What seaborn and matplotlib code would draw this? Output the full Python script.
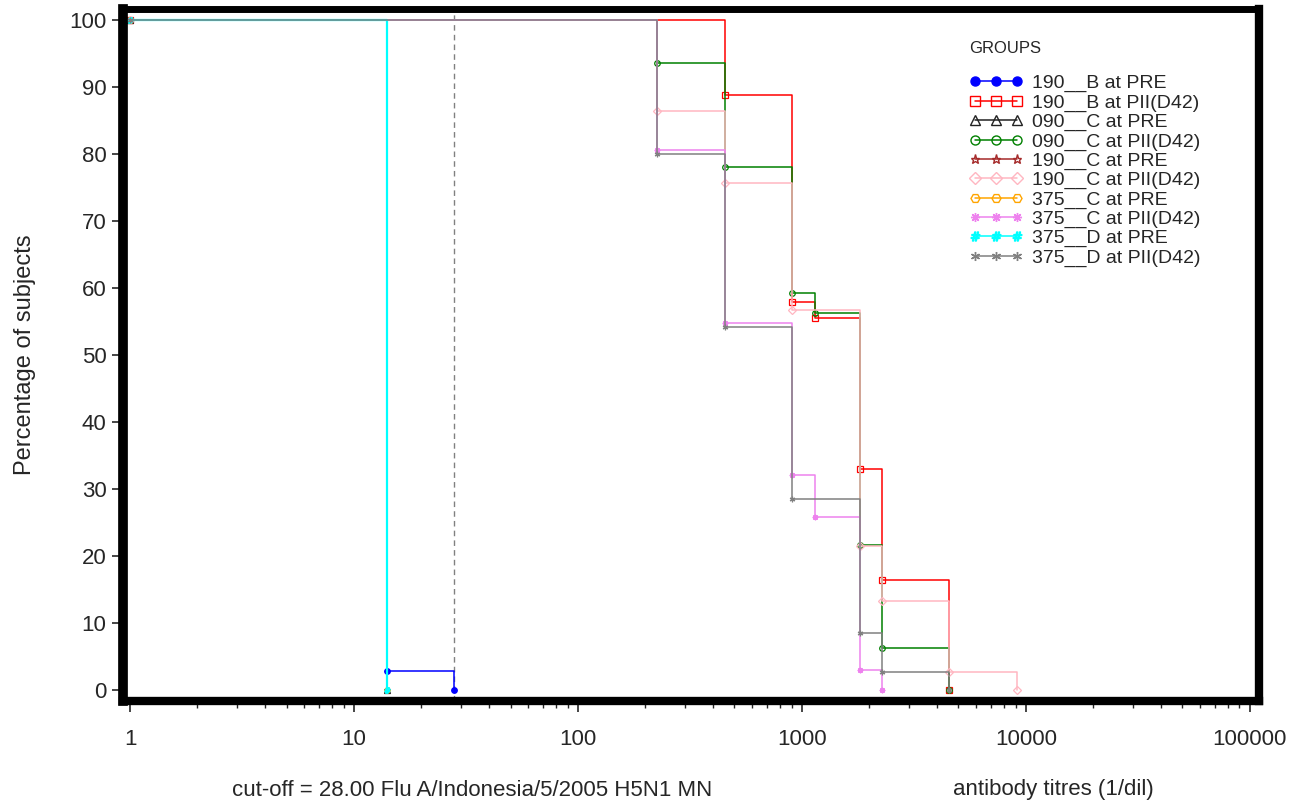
import matplotlib
matplotlib.use("Agg")
import matplotlib.pyplot as plt
from matplotlib.lines import Line2D
from matplotlib.ticker import FixedLocator, FixedFormatter, LogLocator, NullFormatter
import seaborn as sns

# === Data ===
# x = antibody titre, y = % of subjects with titre >= x
b190_pre_x = [1, 14, 28]
b190_pre_y = [100, 2.9, 0]
b190_pii_x = [1, 453, 905, 1140, 1810, 2280, 4560]
b190_pii_y = [100, 88.9, 58.0, 55.5, 33.1, 16.5, 0]
c090_pre_x = [1, 14]
c090_pre_y = [100, 0]
c090_pii_x = [1, 226, 453, 905, 1140, 1810, 2280, 4560]
c090_pii_y = [100, 93.7, 78.1, 59.3, 56.3, 21.7, 6.3, 0]
c190_pre_x = [1, 14]
c190_pre_y = [100, 0]
c190_pii_x = [1, 226, 453, 905, 1810, 2280, 4560, 9120]
c190_pii_y = [100, 86.4, 75.7, 56.8, 21.6, 13.3, 2.7, 0]
c375_pre_x = [1, 14]
c375_pre_y = [100, 0]
c375_pii_x = [1, 226, 453, 905, 1140, 1810, 2280]
c375_pii_y = [100, 80.6, 54.8, 32.1, 25.8, 3.1, 0]
d375_pre_x = [1, 14]
d375_pre_y = [100, 0]
d375_pii_x = [1, 226, 453, 905, 1810, 2280, 4560]
d375_pii_y = [100, 80.0, 54.3, 28.6, 8.6, 2.8, 0]

cutoff = 28
group_labels = ["190__B at PRE", "190__B at PII(D42)", "090__C at PRE", "090__C at PII(D42)",
                "190__C at PRE", "190__C at PII(D42)", "375__C at PRE", "375__C at PII(D42)",
                "375__D at PRE", "375__D at PII(D42)"]
x_ticks = [1, 10, 100, 1000, 10000, 100000]
x_tick_labels = ["1", "10", "100", "1000", "10000", "100000"]
y_ticks = list(range(0, 101, 10))

series = [(b190_pre_x, b190_pre_y), (b190_pii_x, b190_pii_y),
          (c090_pre_x, c090_pre_y), (c090_pii_x, c090_pii_y),
          (c190_pre_x, c190_pre_y), (c190_pii_x, c190_pii_y),
          (c375_pre_x, c375_pre_y), (c375_pii_x, c375_pii_y),
          (d375_pre_x, d375_pre_y), (d375_pii_x, d375_pii_y)]

# style per group: colour, marker, filled
styles = [("#0000ff", "o", True), ("#ff0000", "s", False), ("#222222", "^", False),
          ("#008000", "o", False), ("#a52a2a", "*", False), ("#ffb6c1", "D", False),
          ("#ffa500", "H", False), ("#ee82ee", (8, 2, 0), False), ("#00ffff", r"$\#$", True),
          ("#808080", (6, 2, 0), False)]


def main():
    sns.set_style("ticks")
    plt.rcParams["font.family"] = ["Liberation Sans", "DejaVu Sans"]

    fig = plt.figure(figsize=(12.91, 8.01), dpi=100)
    ax = fig.add_axes([0.0953, 0.1248, 0.8799, 0.864])

    # cut-off line
    ax.axvline(cutoff, color="#808080", lw=1.0, ls=(0, (4, 3)), zorder=1)

    handles = []
    for (xs, ys), (col, mk, filled), lab in zip(series, styles, group_labels):
        fc = col if filled else "none"
        lw = 1.6 if col == "#00ffff" else 1.1
        sns.lineplot(x=xs, y=ys, ax=ax, drawstyle="steps-post", color=col, lw=lw,
                     marker=mk, markersize=4, markerfacecolor=fc, markeredgecolor=col,
                     markeredgewidth=0.9, errorbar=None, sort=False)
        handles.append(Line2D([], [], color=col, lw=1.1, marker=mk, markersize=6.5,
                              markerfacecolor=fc, markeredgecolor=col, markeredgewidth=1.0))

    ax.set_xscale("log")
    ax.set_xlim(0.93, 110000)
    ax.set_ylim(-1.6, 101.7)
    ax.xaxis.set_major_locator(FixedLocator(x_ticks))
    ax.xaxis.set_major_formatter(FixedFormatter(x_tick_labels))
    ax.xaxis.set_minor_locator(LogLocator(base=10, subs=range(2, 10)))
    ax.xaxis.set_minor_formatter(NullFormatter())
    ax.set_yticks(y_ticks)
    ax.set_yticklabels([str(v) for v in y_ticks])

    for side in ["left", "right", "top", "bottom"]:
        ax.spines[side].set_visible(True)
        ax.spines[side].set_color("black")
    ax.spines["left"].set_linewidth(7)
    ax.spines["bottom"].set_linewidth(6)
    ax.spines["right"].set_linewidth(6)
    ax.spines["top"].set_linewidth(5)

    ax.tick_params(axis="x", which="major", direction="out", length=8, width=1.2,
                   pad=12, labelsize=16)
    ax.tick_params(axis="x", which="minor", direction="out", length=5, width=1.0)
    ax.tick_params(axis="y", which="major", direction="out", length=8, width=1.2,
                   pad=4, labelsize=16)
    ax.set_xlabel("")
    ax.set_ylabel("Percentage of subjects", fontsize=17)
    ax.yaxis.set_label_coords(-0.077, 0.5)

    ax.legend(handles, group_labels, loc="upper left",
              bbox_to_anchor=(959 / 1291, 1 - 31 / 801), bbox_transform=fig.transFigure,
              frameon=False, fontsize=14, numpoints=3, handlelength=2.8,
              handletextpad=0.45, labelspacing=0.08, title="GROUPS\n",
              title_fontsize=12, alignment="left", borderpad=0)

    fig.text(472 / 1291, 1 - 790 / 801, "cut-off = 28.00 Flu A/Indonesia/5/2005 H5N1 MN",
             ha="center", va="center", fontsize=16)
    fig.text(1053 / 1291, 1 - 790 / 801, "antibody titres (1/dil)",
             ha="center", va="center", fontsize=16)

    fig.savefig("out.png", dpi=100)


if __name__ == "__main__":
    main()
